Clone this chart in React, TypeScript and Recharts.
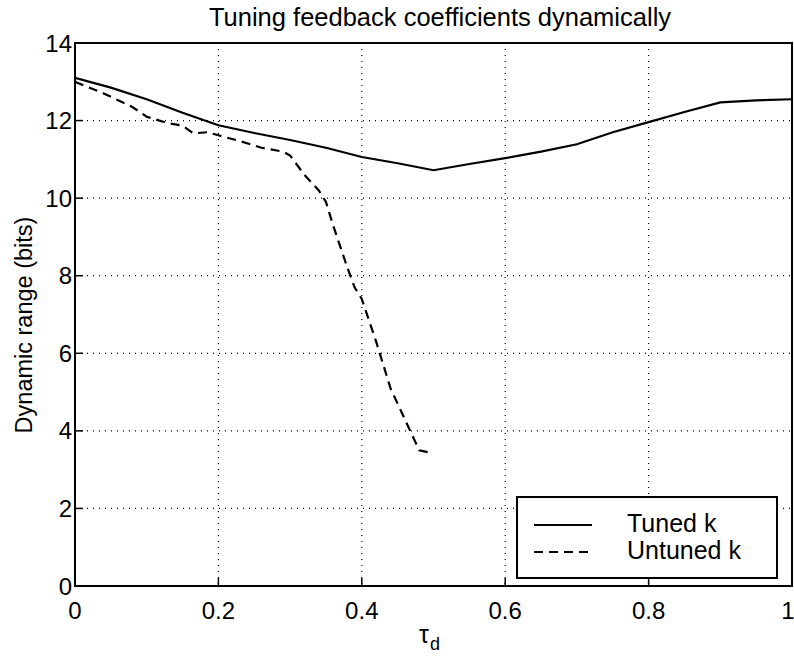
import { LineChart, Line, XAxis, YAxis, CartesianGrid, ReferenceArea } from "recharts";

const TITLE = "Tuning feedback coefficients dynamically";
const X_TICKS = [0, 0.2, 0.4, 0.6, 0.8, 1];
const Y_TICKS = [0, 2, 4, 6, 8, 10, 12, 14];

const TUNED_X = [0, 0.05, 0.1, 0.15, 0.2, 0.25, 0.3, 0.35, 0.4, 0.45, 0.5, 0.55, 0.6, 0.65, 0.7, 0.75, 0.8, 0.85, 0.9, 0.95, 1];
const TUNED_Y = [13.1, 12.85, 12.55, 12.2, 11.88, 11.68, 11.5, 11.3, 11.06, 10.9, 10.72, 10.88, 11.03, 11.2, 11.39, 11.7, 11.96, 12.22, 12.47, 12.52, 12.55];

const UNTUNED_X = [0, 0.04, 0.08, 0.1, 0.13, 0.15, 0.165, 0.185, 0.2, 0.23, 0.26, 0.29, 0.3, 0.32, 0.34, 0.35, 0.36, 0.38, 0.39, 0.4, 0.42, 0.44, 0.46, 0.48, 0.5];
const UNTUNED_Y = [13.0, 12.7, 12.35, 12.1, 11.93, 11.87, 11.67, 11.7, 11.62, 11.47, 11.3, 11.2, 11.1, 10.6, 10.2, 9.9, 9.3, 8.2, 7.7, 7.4, 6.3, 5.1, 4.3, 3.5, 3.42];

const tuned = TUNED_X.map((x, i) => ({ x, y: TUNED_Y[i] }));
const untuned = UNTUNED_X.map((x, i) => ({ x, y: UNTUNED_Y[i] }));

const FONT = "'Liberation Sans', Arial, sans-serif";

function LegendBox() {
  return (
    <div
      style={{
        position: "absolute",
        left: 516,
        top: 496,
        width: 258,
        height: 79,
        border: "2px solid #000",
        background: "#fff",
        fontFamily: FONT,
        fontSize: 25,
        color: "#000",
      }}
    >
      <svg width={80} height={79} style={{ position: "absolute", left: 0, top: 0 }}>
        <line x1={16} x2={74} y1={27} y2={27} stroke="#000" strokeWidth={2} />
        <line x1={16} x2={74} y1={54} y2={54} stroke="#000" strokeWidth={2} strokeDasharray="9 6" />
      </svg>
      <div style={{ position: "absolute", left: 109, top: 12, lineHeight: "27px", whiteSpace: "nowrap" }}>
        Tuned k
        <br />
        Untuned k
      </div>
    </div>
  );
}

export default function App() {
  return (
    <div style={{ position: "absolute", left: 0, top: 0, width: 794, height: 656, background: "#fff" }}>
      <LineChart width={794} height={656} margin={{ top: 43, right: 2, left: 25, bottom: 40 }}>
        <CartesianGrid stroke="#000" strokeDasharray="1 5" strokeWidth={1.2} />
        <XAxis
          type="number"
          dataKey="x"
          domain={[0, 1]}
          ticks={X_TICKS}
          tickFormatter={(v) => String(v)}
          axisLine={false}
          tickLine={{ stroke: "#000", strokeWidth: 1.5 }}
          tickSize={-8}
          tickMargin={24}
          tick={{ fill: "#000", fontSize: 24, fontFamily: FONT }}
          height={30}
          allowDataOverflow
          label={() => (
            <text x={419} y={643} fontFamily={FONT} fontSize={25} fill="#000">
              τ
              <tspan fontSize={18} dx={1} dy={7}>d</tspan>
            </text>
          )}
        />
        <YAxis
          type="number"
          domain={[0, 14]}
          ticks={Y_TICKS}
          axisLine={false}
          tickLine={{ stroke: "#000", strokeWidth: 1.5 }}
          tickSize={-8}
          tickMargin={11}
          tick={{ fill: "#000", fontSize: 24, fontFamily: FONT }}
          width={50}
          allowDataOverflow
          label={() => (
            <text
              x={32}
              y={325}
              transform="rotate(-90 32 325)"
              textAnchor="middle"
              fontFamily={FONT}
              fontSize={23.5}
              fill="#000"
            >
              Dynamic range (bits)
            </text>
          )}
        />
        <ReferenceArea x1={0} x2={1} y1={0} y2={14} fill="none" stroke="#000" strokeWidth={2} ifOverflow="visible" />
        <Line
          data={tuned}
          dataKey="y"
          type="linear"
          stroke="#000"
          strokeWidth={2.2}
          dot={false}
          isAnimationActive={false}
          name="Tuned k"
        />
        <Line
          data={untuned}
          dataKey="y"
          type="linear"
          stroke="#000"
          strokeWidth={2.2}
          strokeDasharray="9 6"
          dot={false}
          isAnimationActive={false}
          name="Untuned k"
        />
      </LineChart>
      <div
        style={{
          position: "absolute",
          left: 0,
          width: 880,
          top: 3,
          textAlign: "center",
          fontFamily: FONT,
          fontSize: 25.5,
          color: "#000",
          whiteSpace: "nowrap",
        }}
      >
        {TITLE}
      </div>
      <LegendBox />
    </div>
  );
}
